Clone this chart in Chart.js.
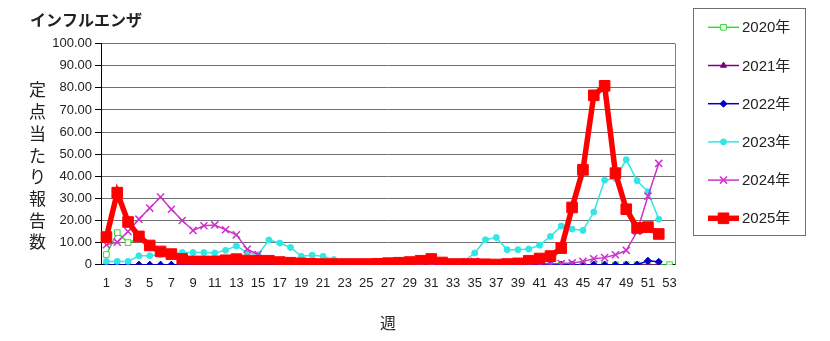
<!DOCTYPE html>
<html>
<head>
<meta charset="utf-8">
<script src="https://cdn.jsdelivr.net/npm/chart.js@4.4.0/dist/chart.umd.min.js"></script>
<style>
  body { margin: 0; background: #fff; }
</style>
</head>
<body>
<canvas id="fluChart" width="830" height="341"></canvas>
<script>
// week numbers on the x axis
const weeks = ['1','2','3','4','5','6','7','8','9','10','11','12','13','14','15','16','17','18','19','20',
  '21','22','23','24','25','26','27','28','29','30','31','32','33','34','35','36','37','38','39','40',
  '41','42','43','44','45','46','47','48','49','50','51','52','53'];

// reports per sentinel
const y2020 = [4.6, 14.5, 10.0, 11.8, 8.5, 5.8, 4.5, 2.5, 1.5, 1.0, 0.5, 0, 0, 0, 0, 0, 0, 0, 0, 0,
  0, 0, 0, 0, 0, 0, 0, 0, 0, 0, 0, 0, 0, 0, 0, 0, 0, 0, 0, 0,
  0, 0, 0, 0, 0, 0, 0, 0, 0, 0, 0, 0, 0];
const y2021 = [0, 0, 0, 0, 0, 0, 0, 0, 0, 0, 0, 0, 0, 0, 0, 0, 0, 0, 0, 0,
  0, 0, 0, 0, 0, 0, 0, 0, 0, 0, 0, 0, 0, 0, 0, 0, 0, 0, 0, 0,
  0, 0, 0, 0, 0, 0, 0, 0, 0, 0, 0, 0, null];
const y2022 = [0, 0, 0, 0, 0, 0, 0, 0, 0, 0, 0, 0, 0, 0, 0, 0, 0, 0, 0, 0,
  0, 0, 0, 0, 0, 0, 0, 0, 0, 0, 0, 0, 0, 0, 0, 0, 0, 0, 0, 0,
  0, 0, 0, 0, 0, 0, 0, 0, 0, 0, 1.8, 1.3, null];
const y2023 = [1.5, 1.5, 1.5, 4.0, 4.1, 4.5, 5.0, 5.5, 5.5, 5.5, 5.3, 6.5, 8.5, 5.5, 4.5, 11.2, 9.8, 7.8, 3.8, 4.3,
  3.8, 2.3, 1.0, 0.8, 0.8, 0.8, 0.8, 0.8, 0.8, 0.8, 0.8, 0.6, 0.5, 1.5, 5.3, 11.3, 12.3, 6.8, 6.8, 7.1,
  8.8, 12.8, 17.5, 16.1, 15.5, 23.8, 38.2, 39.0, 47.5, 38.0, 33.0, 20.6, null];
const y2024 = [9.0, 10.2, 15.0, 20.6, 25.6, 30.6, 25.1, 20.0, 15.5, 17.6, 18.0, 15.8, 13.5, 7.0, 4.6, 2.5, 1.5, 1.0, 0.8, 0.5,
  0.5, 0.4, 0.4, 0.4, 0.4, 0.4, 0.4, 0.4, 0.4, 0.4, 0.3, 0.4, 0.4, 0.6, 1.5, 0.8, 0.6, 0.5, 0.4, 0.4,
  0.4, 0.4, 0.5, 0.8, 1.5, 2.7, 3.2, 4.5, 6.5, 15.0, 31.0, 45.8, null];
const y2025 = [12.5, 32.6, 19.3, 12.8, 8.7, 6.0, 4.8, 2.6, 1.5, 1.5, 1.5, 2.0, 2.5, 1.9, 1.8, 1.8, 1.2, 0.9, 0.6, 0.4,
  0.3, 0.3, 0.3, 0.3, 0.3, 0.4, 0.7, 0.9, 1.2, 1.8, 2.6, 1.0, 0.3, 0.3, 0.3, 0.2, 0.1, 0.3, 0.6, 1.8,
  2.8, 3.9, 7.5, 25.9, 42.9, 76.6, 80.9, 41.4, 25.1, 16.6, 17.0, 13.9, null];

const yTicks = [0, 10, 20, 30, 40, 50, 60, 70, 80, 90, 100];
const yTitleChars = ['定', '点', '当', 'た', 'り', '報', '告', '数'];

Chart.defaults.font.family = "'Liberation Sans', 'Noto Sans CJK JP', sans-serif";
Chart.defaults.color = '#222';

// custom legend box, stacked y title and right border of the plot
const extrasPlugin = {
    id: 'extras',
    afterDraw(chart) {
        const ctx = chart.ctx;
        const area = chart.chartArea;
        ctx.save();

        // right border of plot
        ctx.strokeStyle = '#808080';
        ctx.lineWidth = 1;
        ctx.beginPath();
        ctx.moveTo(Math.round(area.right) + 0.5, area.top);
        ctx.lineTo(Math.round(area.right) + 0.5, area.bottom);
        ctx.stroke();

        // y title, one character per line
        ctx.fillStyle = '#222';
        ctx.font = "17px 'Noto Sans CJK JP'";
        ctx.textAlign = 'center';
        ctx.textBaseline = 'middle';
        yTitleChars.forEach((ch, i) => {
            ctx.fillText(ch, 37.5, 90 + i * 21.7);
        });

        // legend box
        ctx.strokeStyle = '#707070';
        ctx.lineWidth = 1;
        ctx.strokeRect(693.5, 8.5, 112, 227);

        chart.data.datasets.forEach((ds, i) => {
            const y = 27.3 + i * 38.2;
            ctx.strokeStyle = ds.borderColor;
            ctx.lineWidth = ds.borderWidth;
            ctx.beginPath();
            ctx.moveTo(708, y);
            ctx.lineTo(739, y);
            ctx.stroke();

            ctx.fillStyle = ds.pointBackgroundColor;
            ctx.strokeStyle = ds.borderColor;
            ctx.lineWidth = ds.pointBorderWidth;
            Chart.helpers.drawPoint(ctx, {
                pointStyle: ds.pointStyle,
                radius: ds.pointRadius,
                borderWidth: ds.pointBorderWidth,
                rotation: 0
            }, 723.5, y);

            ctx.fillStyle = '#222';
            ctx.font = "15px 'Liberation Sans', 'Noto Sans CJK JP'";
            ctx.textAlign = 'left';
            ctx.textBaseline = 'middle';
            ctx.fillText(ds.label, 742, y + 1);
        });
        ctx.restore();
    }
};

function makeSeries(label, data, color, style, radius, fill, lineW, order) {
    return {
        label: label,
        data: data,
        borderColor: color,
        borderWidth: lineW,
        backgroundColor: color,
        pointStyle: style,
        pointRadius: radius,
        pointHoverRadius: radius,
        pointBackgroundColor: fill,
        pointBorderColor: color,
        pointBorderWidth: style === 'crossRot' ? 1.5 : 1,
        tension: 0,
        fill: false,
        order: order
    };
}

const ctx = document.getElementById('fluChart').getContext('2d');
new Chart(ctx, {
    type: 'line',
    data: {
        labels: weeks,
        datasets: [
            makeSeries('2020年', y2020, '#33dd33', 'rect', 4, '#ffffff', 1.5, 5),
            makeSeries('2021年', y2021, '#800080', 'triangle', 3.5, '#800080', 1.5, 4),
            makeSeries('2022年', y2022, '#0000c0', 'rectRot', 3.5, '#0000c0', 1.5, 3),
            makeSeries('2023年', y2023, '#33e6e6', 'circle', 3, '#33e6e6', 1.5, 2),
            makeSeries('2024年', y2024, '#cc33cc', 'crossRot', 5, '#cc33cc', 1.5, 1),
            makeSeries('2025年', y2025, '#ff0000', 'rect', 7.5, '#ff0000', 5.5, 0)
        ]
    },
    options: {
        responsive: false,
        animation: false,
        layout: { padding: { left: 30, right: 155, top: 0, bottom: 0 } },
        plugins: {
            legend: { display: false },
            tooltip: { enabled: false },
            title: {
                display: true,
                text: 'インフルエンザ',
                align: 'start',
                color: '#222',
                font: { family: "'Noto Sans CJK JP'", size: 16, weight: 'bold' },
                padding: { top: 10, bottom: 14.4 }
            }
        },
        scales: {
            x: {
                offset: true,
                grid: { display: false, drawTicks: false },
                border: { display: true, color: '#000', width: 1 },
                ticks: {
                    autoSkip: false,
                    maxRotation: 0,
                    padding: 10.5,
                    color: '#222',
                    font: { size: 13 },
                    callback: function (value, index) {
                        return index % 2 === 0 ? weeks[index] : '';
                    }
                },
                title: {
                    display: true,
                    text: '週',
                    color: '#222',
                    font: { family: "'Noto Sans CJK JP'", size: 16 },
                    padding: { top: 12, bottom: 8.5 }
                }
            },
            y: {
                min: 0,
                max: 100,
                afterFit: function (scale) { scale.width = 71; },
                afterBuildTicks: function (scale) {
                    scale.ticks = yTicks.map(v => ({ value: v }));
                },
                grid: { color: '#707070', tickColor: '#000', tickLength: 6, lineWidth: 1 },
                border: { display: true, color: '#000', width: 1 },
                ticks: {
                    padding: 3,
                    color: '#222',
                    font: { size: 13 },
                    callback: function (value) {
                        return value === 0 ? '0' : value.toFixed(2);
                    }
                }
            }
        }
    },
    plugins: [extrasPlugin]
});
</script>
</body>
</html>
